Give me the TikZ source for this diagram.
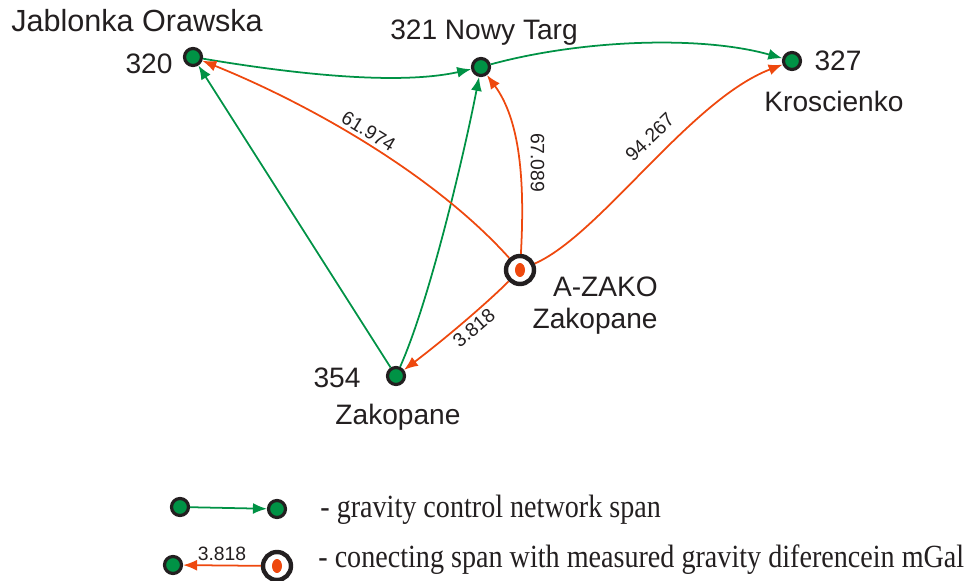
\documentclass[tikz,border=0pt]{standalone}
\usepackage{fontspec}
\setsansfont{Liberation Sans}
\newfontfamily\legfont[FakeStretch=0.87]{Liberation Serif}
\usepackage{tikz}
\usetikzlibrary{arrows.meta,positioning}
\definecolor{gnet}{RGB}{0,146,69}
\definecolor{orng}{RGB}{238,72,14}
\definecolor{outl}{RGB}{35,31,32}

\begin{document}
\begin{tikzpicture}[x=0.02cm,y=-0.02cm,
	sta/.style={circle, draw=outl, fill=gnet, line width=1.8pt, minimum size=0.34cm, inner sep=0pt},
	refsta/.style={circle, draw=outl, fill=white, line width=2.5pt, minimum size=0.56cm, inner sep=0pt,
		path picture={\fill[orng] (path picture bounding box.center) ellipse (0.1cm and 0.14cm);}},
	gedge/.style={draw=gnet, line width=1pt, -{Latex[length=2.8mm,width=2.2mm]}},
	oedge/.style={draw=orng, line width=1pt, -{Latex[length=2.8mm,width=2.2mm]}},
	stalbl/.style={font=\sffamily\fontsize{16}{18}\selectfont, text=outl, inner sep=0pt},
	lbl/.style={font=\sffamily\fontsize{11}{13}\selectfont, text=outl, inner sep=2pt},
	leg/.style={font=\legfont\fontsize{18.4}{20}\selectfont, text=outl, inner sep=0pt}]
	\useasboundingbox (0,0) rectangle (975,581);

	\node[sta] (n320) at (193,57) {};
	\node[sta] (n321) at (481,67) {};
	\node[sta] (n327) at (792,61) {};
	\node[sta] (n354) at (396,376) {};
	\node[refsta] (azako) at (520,270) {};

	\node[stalbl, font=\sffamily\fontsize{17.4}{19}\selectfont] (t320a) at (137,21) {Jablonka Orawska};
	\node[stalbl] (t320) at (149,64) {320};
	\node[stalbl] (t321) at (484,33) {321 Nowy Targ};
	\node[stalbl] (t327) at (838,61) {327};
	\node[stalbl] (t327a) at (834,101) {Kroscienko};
	\node[stalbl, align=right, anchor=north east] (tazako) at (658,277) {A-ZAKO\\Zakopane};
	\node[stalbl] (t354) at (337,378) {354};
	\node[stalbl] (t354a) at (398,417) {Zakopane};

	\draw[gedge] (n320) .. controls (300,75) and (400,85) .. (n321);
	\draw[gedge] (n321) .. controls (580,40) and (700,35) .. (n327);
	\draw[gedge] (n354) -- (n320);
	\draw[gedge] (n354) .. controls (430,300) and (465,150) .. (n321);

	\draw[oedge] (azako) .. controls (430,170) and (300,100) .. node[lbl, sloped, above] (l61) {61.974} (n320);
	\draw[oedge] (azako) .. controls (525,180) and (520,120) .. node[lbl, pos=0.45, rotate=-90, anchor=south, yshift=4pt] (l67) {67.089} (n321);
	\draw[oedge] (azako) .. controls (600,235) and (690,100) .. node[lbl, sloped, above=5pt, pos=0.56] (l94) {94.267} (n327);
	\draw[oedge] (azako) .. controls (490,300) and (450,335) .. node[lbl, sloped, below] (l38) {3.818} (n354);

	\node[sta] (g1) at (180,507) {};
	\node[sta] (g2) at (277,509) {};
	\draw[gedge] (g1) -- (g2);
	\node[sta] (g3) at (173,565) {};
	\node[refsta] (r1) at (277,566) {};
	\draw[oedge] (r1) -- node[lbl, above] (l38b) {3.818} (g3);

	\node[leg, anchor=base west] (leg1) at (320,517) {- gravity control network span};
	\node[leg, anchor=base west] (leg2) at (318,567) {- conecting span with measured gravity diferencein mGal};
\end{tikzpicture}
\end{document}
